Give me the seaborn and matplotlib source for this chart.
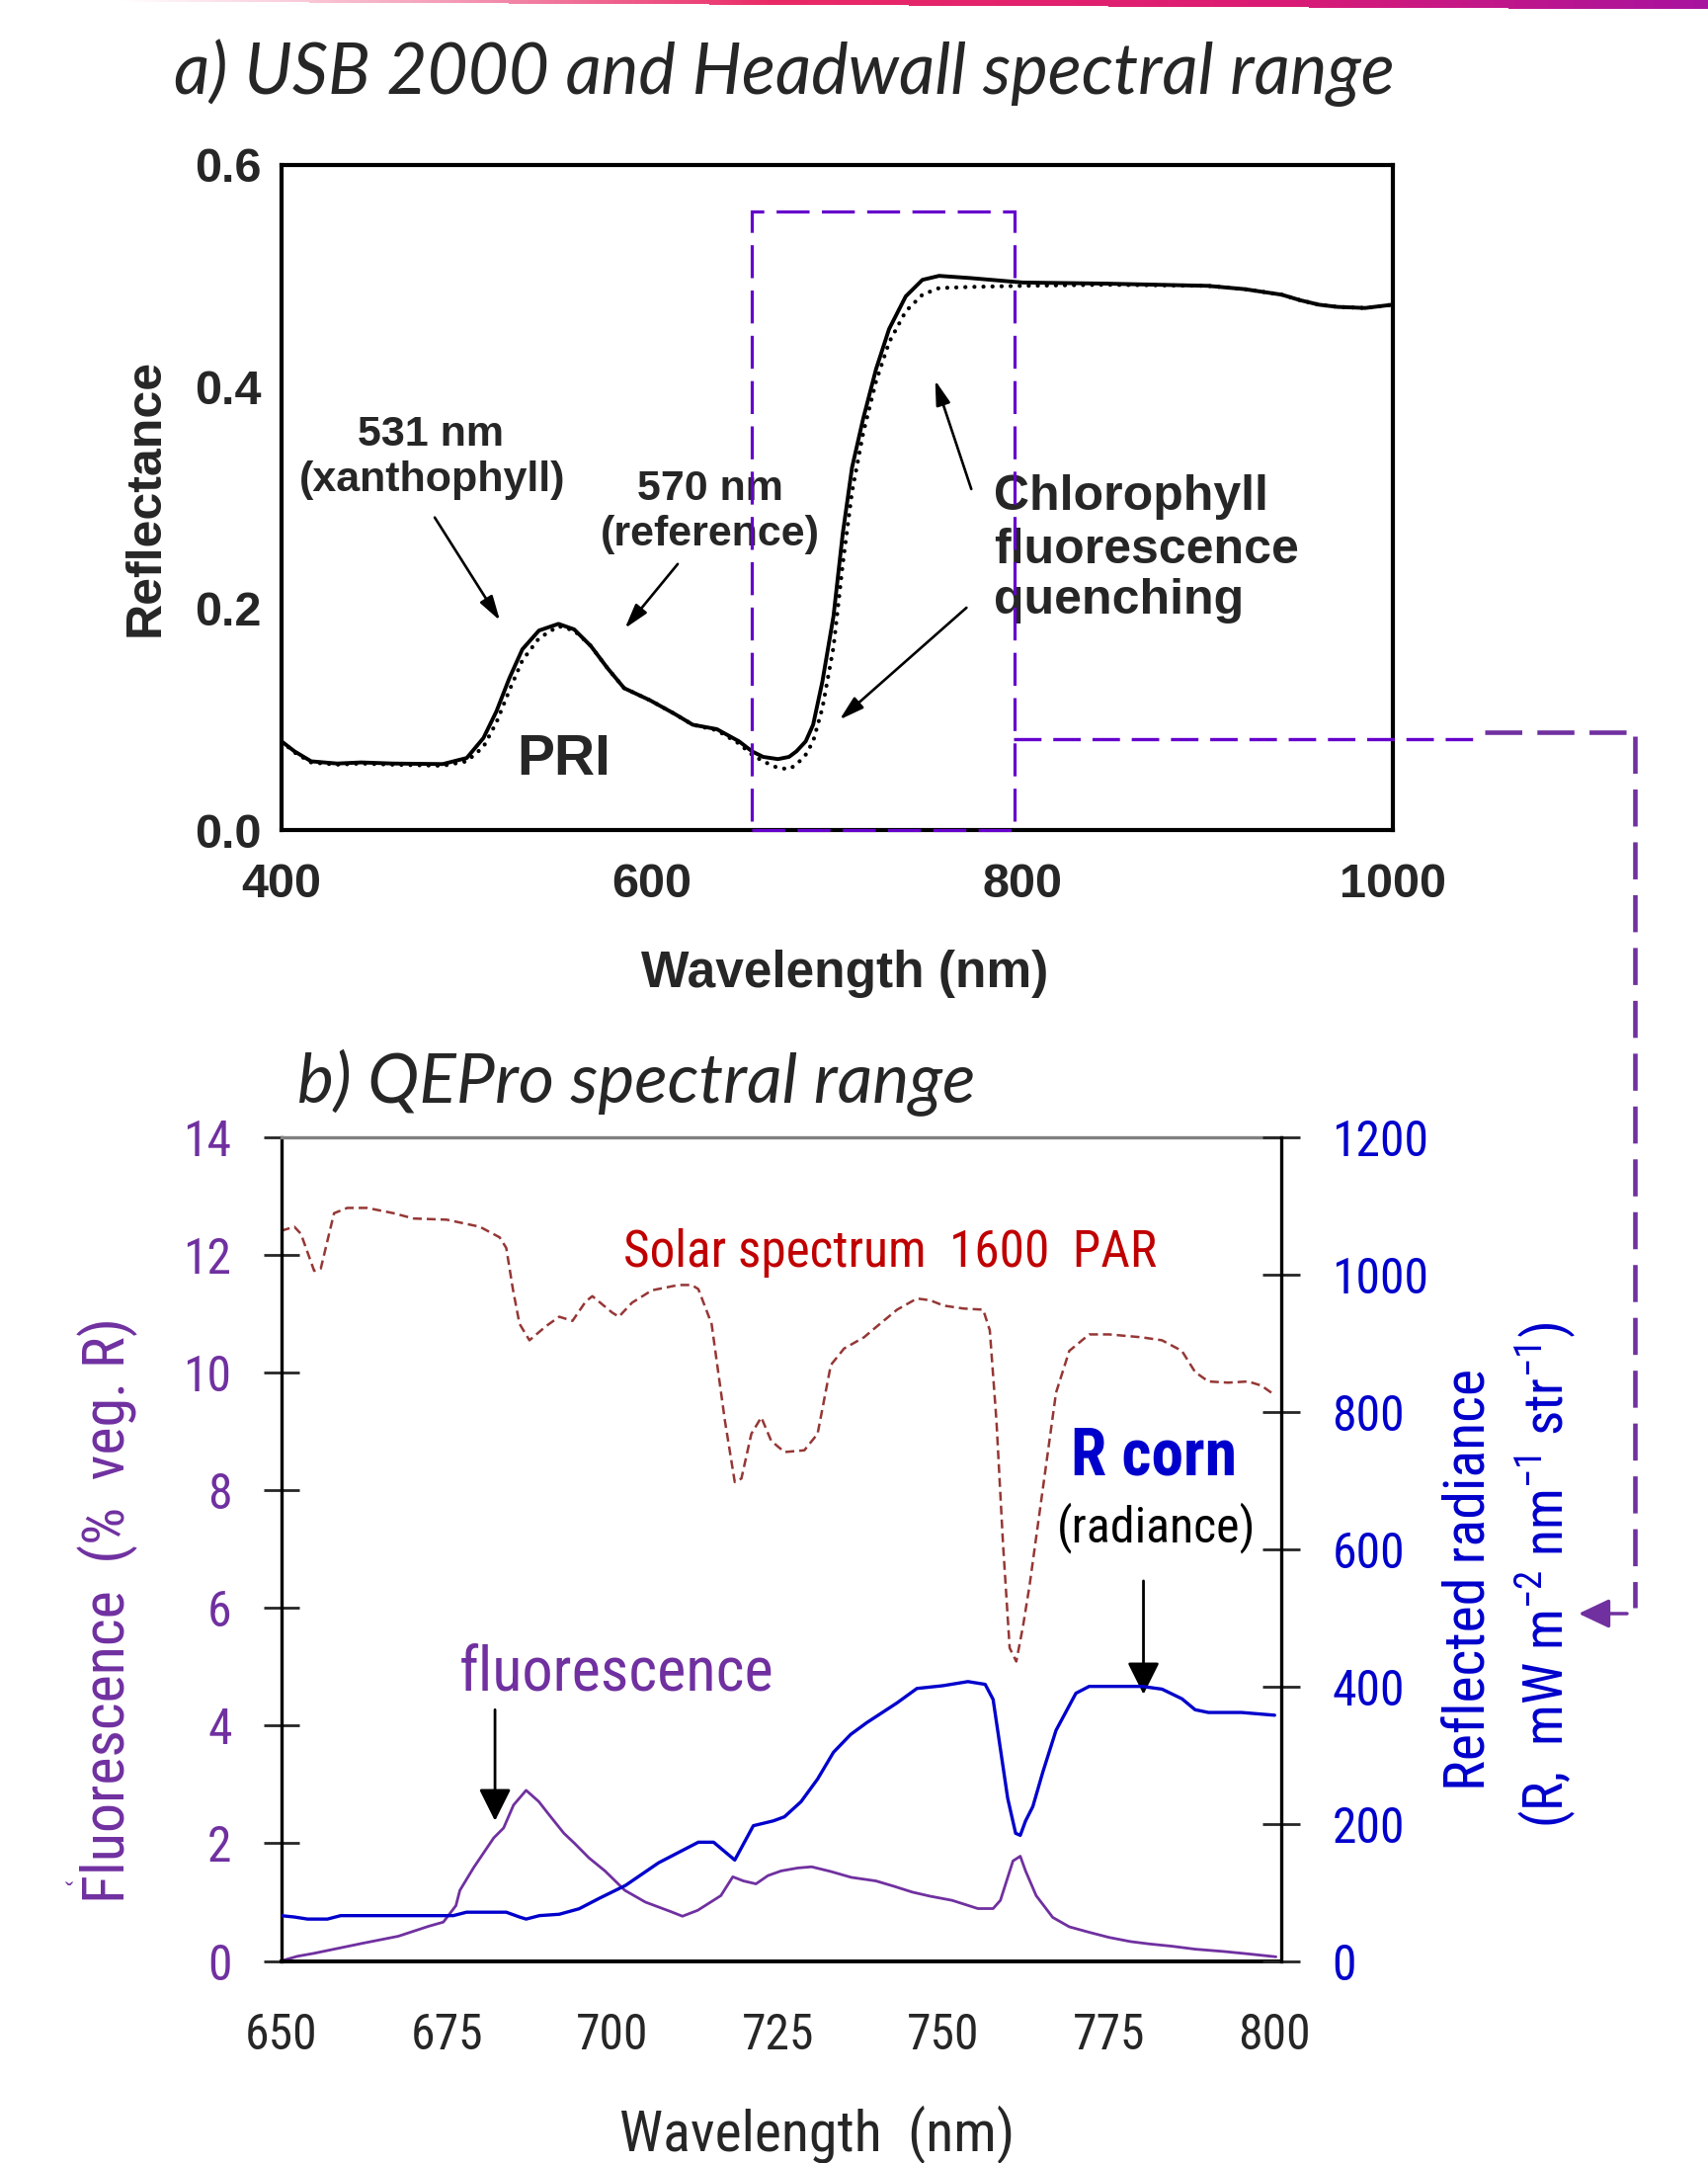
import numpy as np
import pandas as pd
import matplotlib
matplotlib.use("Agg")
import matplotlib.pyplot as plt
import matplotlib.transforms as mtransforms
from matplotlib import font_manager as fm
from matplotlib.colors import LinearSegmentedColormap
from matplotlib.lines import Line2D
from matplotlib.patches import Rectangle, FancyArrowPatch
import seaborn as sns

# ---------------- panel a: leaf reflectance ----------------
wl_a = [400, 407, 416, 430, 443, 460, 487, 500, 509, 516,
        523, 530, 539, 549.5, 558, 567, 576, 585, 599, 612,
        622, 635, 647, 654, 660, 668, 674, 678, 683, 687,
        692, 698, 703, 708, 714, 721, 728, 737, 746, 755,
        772, 800, 845, 900, 920, 940, 950, 960, 970, 985, 1000]
refl_solid = [0.080, 0.071, 0.062, 0.060, 0.061, 0.060, 0.0595, 0.065, 0.083, 0.107,
              0.137, 0.163, 0.180, 0.186, 0.181, 0.166, 0.146, 0.128, 0.117, 0.105,
              0.095, 0.091, 0.080, 0.071, 0.066, 0.064, 0.066, 0.071, 0.080, 0.095,
              0.134, 0.193, 0.2675, 0.327, 0.371, 0.416, 0.452, 0.4815, 0.4964, 0.500,
              0.498, 0.494, 0.493, 0.491, 0.488, 0.483, 0.478, 0.474, 0.472, 0.471, 0.474]
refl_dotted = [0.080, 0.070, 0.061, 0.059, 0.060, 0.059, 0.058, 0.062, 0.075, 0.097,
               0.126, 0.153, 0.173, 0.184, 0.180, 0.166, 0.146, 0.128, 0.117, 0.105,
               0.095, 0.090, 0.078, 0.068, 0.062, 0.056, 0.055, 0.059, 0.068, 0.080,
               0.110, 0.165, 0.240, 0.305, 0.358, 0.405, 0.440, 0.468, 0.483, 0.489,
               0.490, 0.491, 0.492, 0.491, 0.488, 0.483, 0.478, 0.474, 0.472, 0.471, 0.474]

a_xticks = [400, 600, 800, 1000]
a_yticks = [0.0, 0.2, 0.4, 0.6]
box_nm = (654, 795.5)      # dashed window = QEPro range
box_top = 0.558

# ---------------- panel b: QEPro spectra ----------------
wl_solar = [650, 652, 653, 655, 656, 658, 660, 663, 667, 670, 675, 680, 683, 684, 685,
            686, 687.5, 690, 692, 694, 696, 697, 700, 701, 703, 706, 710, 712, 713, 715,
            717, 718.5, 719.5, 721, 722.5, 724, 726, 729, 731, 733, 735, 738, 740, 743, 746,
            748, 750, 753, 756, 757, 758, 759, 760, 761, 762, 763, 765, 767, 769, 772,
            775, 780, 783, 786, 788, 790, 793, 796, 798, 800]
solar = [12.41, 12.48, 12.36, 11.73, 11.77, 12.71, 12.80, 12.80, 12.71, 12.62, 12.60, 12.48, 12.30, 12.12, 11.42,
         10.83, 10.55, 10.79, 10.95, 10.88, 11.21, 11.30, 11.02, 10.95, 11.19, 11.40, 11.49, 11.49, 11.42, 10.83,
         9.19, 8.14, 8.20, 8.96, 9.24, 8.84, 8.65, 8.68, 8.96, 10.13, 10.41, 10.60, 10.79, 11.07, 11.26,
         11.23, 11.14, 11.09, 11.07, 10.72, 9.19, 7.08, 5.32, 5.09, 5.68, 6.38, 8.02, 9.66, 10.37, 10.65,
         10.65, 10.60, 10.55, 10.37, 10.01, 9.85, 9.83, 9.85, 9.78, 9.62]   # drawn on the left scale

wl_rad = [650, 652, 654, 657, 659, 676, 678, 684, 686, 687, 689, 692, 695, 698, 702,
          707, 710, 713, 715.3, 718.5, 721.3, 724.3, 726, 728.5, 731, 733.4, 736, 738.4, 743, 746,
          749.9, 753.7, 756.3, 757.5, 759.7, 760.9, 761.6, 762.4, 763.5, 765, 767, 770, 772, 775, 780,
          783, 786, 788, 790, 795, 800]
radiance = [66, 64, 61, 61, 66, 66, 71, 71, 64, 61, 66, 68, 76, 91, 110,
            143, 158, 173, 173, 147, 197, 204, 210, 232, 265, 304, 330, 347, 376, 397,
            401, 407, 403, 381, 237, 186, 183, 204, 225, 275, 336, 390, 400, 400, 400,
            396, 382, 366, 362, 362, 358]

wl_fluo = [650, 652.5, 655, 658, 662.3, 667.7, 672.3, 674.5, 676.4, 677, 679.1, 682.1, 683.6, 685.1, 687,
           688.9, 690.5, 692.7, 694.3, 696.5, 698.9, 701.9, 705, 708.8, 710.6, 712.9, 716.4, 718.2, 719.8, 721.7,
           723.5, 725.5, 728, 730.1, 733, 736.1, 739.8, 742.5, 745.3, 748, 751.3, 755.2, 757.5, 758.6, 760.5,
           761.6, 762.4, 764, 766.5, 769, 771.9, 775, 778.2, 781, 784.5, 788, 792.4, 796, 800.2]
fluo = [0.0, 0.08, 0.13, 0.20, 0.30, 0.42, 0.59, 0.66, 0.94, 1.20, 1.59, 2.09, 2.26, 2.65, 2.90,
        2.71, 2.48, 2.17, 2.00, 1.75, 1.53, 1.20, 1.00, 0.84, 0.76, 0.86, 1.11, 1.43, 1.36, 1.31,
        1.45, 1.53, 1.58, 1.60, 1.52, 1.42, 1.36, 1.27, 1.17, 1.10, 1.03, 0.89, 0.89, 1.03, 1.70,
        1.78, 1.53, 1.11, 0.74, 0.58, 0.49, 0.40, 0.33, 0.29, 0.25, 0.20, 0.16, 0.12, 0.07]

b_xticks = [650, 675, 700, 725, 750, 775, 800]
b_yticks_left = [0, 2, 4, 6, 8, 10, 12, 14]
b_yticks_right = [0, 200, 400, 600, 800, 1000, 1200]

PURPLE = "#7030A0"
VIOLET = "#6600CC"
BLUE = "#0000CC"
RED = "#C00000"
BROWN = "#953735"

# ---------------- style ----------------
sns.set_theme(style="white")
plt.rcParams["font.family"] = ["Liberation Sans", "DejaVu Sans"]
plt.rcParams["lines.scale_dashes"] = False


def pick_narrow():
    """Best condensed sans on this machine (the b) panel uses a narrow face)."""
    names = {f.name for f in fm.fontManager.ttflist}
    for name in ["Liberation Sans Narrow", "Arial Narrow", "Roboto Condensed",
                 "Noto Sans Condensed", "Open Sans Condensed", "DejaVu Sans Condensed"]:
        if name in names:
            return name, "normal"
    for f in fm.fontManager.ttflist:
        if f.name in ("DejaVu Sans", "Noto Sans", "Open Sans", "Roboto") and \
                f.stretch in ("condensed", "semi-condensed", "extra-condensed") and f.style == "normal":
            return f.name, f.stretch
    return "Liberation Sans", "normal"


NARROW, NSTRETCH = pick_narrow()
plt.rcParams["mathtext.fontset"] = "custom"
plt.rcParams["mathtext.rm"] = NARROW
plt.rcParams["mathtext.it"] = NARROW + ":italic"
plt.rcParams["mathtext.bf"] = NARROW + ":bold"

W, H = 1729, 2189
fig = plt.figure(figsize=(W / 100, H / 100), dpi=100)
renderer = fig.canvas.get_renderer()
px = mtransforms.Affine2D().scale(1 / W, -1 / H).translate(0, 1) + fig.transFigure


def fit(txt, target, along="w"):
    # scale the font so the text spans the same number of pixels as in the original
    bb = txt.get_window_extent(renderer)
    size = bb.width if along == "w" else bb.height
    txt.set_fontsize(txt.get_fontsize() * target / size)


# thin gradient rule along the top edge
cmap = LinearSegmentedColormap.from_list(
    "rule", [(0, "#FFFFFF"), (0.07, "#FFFFFF"), (0.25, "#F5A3BC"), (0.45, "#EA2A66"),
             (0.75, "#DA1B74"), (1, "#A8139F")])
rgba = cmap(np.linspace(0, 1, W))
img = np.repeat(rgba[None, :, :], 10, axis=0)
thick = np.clip((np.arange(W) - 110) / (W - 110) * 8 + 1, 0, None)
img[..., 3] = (np.arange(10)[:, None] < thick[None, :]).astype(float)
rule_ax = fig.add_axes([0, 1 - 10 / H, 1, 10 / H])
rule_ax.imshow(img, aspect="auto", interpolation="nearest")
rule_ax.axis("off")

# ================= panel a =================
ax_a = fig.add_axes([285 / W, 1 - 840 / H, 1125 / W, 673 / H])
df_a = pd.DataFrame({"wl": wl_a, "solid": refl_solid, "dotted": refl_dotted})
sns.lineplot(data=df_a, x="wl", y="dotted", ax=ax_a, color="black", lw=3.0,
             linestyle=(0, (0.1, 6.5)), dash_capstyle="round")
sns.lineplot(data=df_a, x="wl", y="solid", ax=ax_a, color="black", lw=2.8)

ax_a.set_xlim(400, 1000)
ax_a.set_ylim(0, 0.6)
ax_a.set_xlabel("")
ax_a.set_ylabel("")
ax_a.set_xticks(a_xticks)
ax_a.set_xticklabels([str(v) for v in a_xticks], fontsize=35, fontweight="bold")
ax_a.set_yticks(a_yticks)
ax_a.set_yticklabels([f"{v:.1f}" for v in a_yticks], fontsize=35, fontweight="bold")
ax_a.tick_params(axis="both", direction="in", length=22, width=2.4, top=False, right=False)
ax_a.tick_params(axis="y", pad=15)
ax_a.tick_params(axis="x", pad=24)
for t in [ax_a.xaxis.get_major_ticks()[0], ax_a.xaxis.get_major_ticks()[-1],
          ax_a.yaxis.get_major_ticks()[0], ax_a.yaxis.get_major_ticks()[-1]]:
    t.tick1line.set_visible(False)
for s in ax_a.spines.values():
    s.set_color("black")
    s.set_linewidth(3)

ax_a.add_patch(Rectangle((box_nm[0], 0), box_nm[1] - box_nm[0], box_top, fill=False,
                         ec=VIOLET, lw=2.3, linestyle=(0, (24, 9)), clip_on=False, zorder=6))

for x, y, s in [(480.5, 0.3468, "531 nm"), (481.3, 0.3058, "(xanthophyll)"),
                (631.2, 0.2978, "570 nm"), (631.2, 0.2568, "(reference)")]:
    ax_a.text(x, y, s, ha="center", va="baseline", fontsize=31, fontweight="bold")
for y, s in [(0.2889, "Chlorophyll"), (0.2407, "fluorescence"), (0.1953, "quenching")]:
    ax_a.text(784.5, y, s, ha="left", va="baseline", fontsize=36, fontweight="bold")
ax_a.text(552.5, 0.0499, "PRI", ha="center", va="baseline", fontsize=41, fontweight="bold")

for (x0, y0), (x1, y1) in [((482.7, 0.282), (517.9, 0.189)), ((613.9, 0.240), (585.4, 0.182)),
                           ((772.4, 0.3076), (752.9, 0.4057)), ((769.8, 0.2006), (701.3, 0.0996))]:
    ax_a.annotate("", xy=(x1, y1), xytext=(x0, y0),
                  arrowprops=dict(arrowstyle="-|>,head_length=0.75,head_width=0.22",
                                  mutation_scale=20, lw=1.9, color="black",
                                  shrinkA=0, shrinkB=0))

fig.text(855 / W, 1 - 961 / H, "Wavelength (nm)", ha="center", va="top",
         fontsize=37, fontweight="bold")
fig.text(148 / W, 1 - 503 / H, "Reflectance", rotation=90, ha="center", va="center",
         fontsize=36, fontweight="bold")

# ================= panel b =================
ax_b = fig.add_axes([284.5 / W, 1 - 1984.5 / H, 1012.5 / W, 833.5 / H])
ax_r = ax_b.twinx()
sns.lineplot(x=wl_solar, y=solar, ax=ax_b, color=BROWN, lw=1.8, linestyle=(0, (6.5, 3.6)))
sns.lineplot(x=wl_fluo, y=fluo, ax=ax_b, color=PURPLE, lw=2.0)
sns.lineplot(x=wl_rad, y=radiance, ax=ax_r, color=BLUE, lw=2.4)

ax_b.set_xlim(650, 801)
ax_b.set_ylim(0, 14)
ax_r.set_ylim(0, 1200)
for a in (ax_b, ax_r):
    a.set_xlabel("")
    a.set_ylabel("")

# tick-label size: "1200" is 98 px wide in the original
probe = fig.text(0, 0, "1200", family=NARROW, fontstretch=NSTRETCH, fontsize=40)
tick_size = 40 * 98 / probe.get_window_extent(renderer).width
probe.remove()
nfp = fm.FontProperties(family=NARROW, stretch=NSTRETCH, size=tick_size)

ax_b.set_xticks(b_xticks)
ax_b.set_xticklabels([str(v) for v in b_xticks], fontproperties=nfp)
ax_b.set_yticks(b_yticks_left)
ax_b.set_yticklabels([str(v) for v in b_yticks_left], fontproperties=nfp, color=PURPLE)
ax_r.set_yticks(b_yticks_right)
ax_r.set_yticklabels([str(v) for v in b_yticks_right], fontproperties=nfp, color=BLUE)
ax_b.tick_params(axis="x", direction="inout", length=28, width=2, pad=23, top=False)
ax_b.tick_params(axis="y", direction="inout", length=26, width=2, pad=23, right=False)
ax_r.tick_params(axis="y", direction="inout", length=28, width=2, pad=23)

ax_b.spines["right"].set_visible(False)
ax_b.spines["top"].set_color("#808080")
ax_b.spines["top"].set_linewidth(2.4)
ax_b.spines["left"].set_color("black")
ax_b.spines["left"].set_linewidth(2.4)
ax_b.spines["bottom"].set_color("black")
ax_b.spines["bottom"].set_linewidth(2.8)
for side in ("left", "top", "bottom"):
    ax_r.spines[side].set_visible(False)
ax_r.spines["right"].set_color("black")
ax_r.spines["right"].set_linewidth(2.4)

nkw = dict(family=NARROW, fontstretch=NSTRETCH)
t_solar = ax_b.text(741.9, 11.80, "Solar spectrum  1600  PAR", color=RED, ha="center",
                    va="baseline", fontsize=39, **nkw)
t_corn = ax_b.text(781.8, 8.27, "R corn", color=BLUE, ha="center", va="baseline",
                   fontsize=47, fontweight="bold", **nkw)
t_rad = ax_b.text(782.1, 7.36, "(radiance)", color="black", ha="center", va="center",
                  fontsize=39, **nkw)
t_fluo = ax_b.text(700.6, 4.61, "fluorescence", color=PURPLE, ha="center", va="baseline",
                   fontsize=49, **nkw)
for x, y0, y1 in [(682.3, 4.27, 2.38), (780.2, 6.46, 4.53)]:
    ax_b.annotate("", xy=(x, y1), xytext=(x, y0),
                  arrowprops=dict(arrowstyle="-|>,head_length=0.8,head_width=0.4",
                                  mutation_scale=25, lw=2.0, color="black",
                                  shrinkA=0, shrinkB=0))

t_xlab = fig.text(827 / W, 1 - 2177 / H, "Wavelength  (nm)", ha="center", va="baseline",
                  fontsize=45, **nkw)
t_ylab = fig.text(109 / W, 1 - 1630 / H, "Fluorescence  (%  veg. R)", rotation=90,
                  ha="center", va="center", fontsize=45, color=PURPLE, **nkw)
fig.text(70 / W, 1 - 1916 / H, "ˇ", ha="center", va="center", fontsize=18, color=PURPLE)
t_r1 = fig.text(1487 / W, 1 - 1599 / H, "Reflected radiance", rotation=90, ha="center",
                va="center", fontsize=45, color=BLUE, **nkw)
t_r2 = fig.text(1564 / W, 1 - 1594 / H, r"(R,  mW m$^{-2}$ nm$^{-1}$ str$^{-1}$)",
                rotation=90, ha="center", va="center", fontsize=45, color=BLUE, **nkw)

# ---------------- connector from window a) to the radiance axis of b) ----------------
fig.add_artist(Line2D([1026, 1495], [748, 748], transform=px, color=VIOLET, lw=2.4,
                      linestyle=(0, (20, 8.6))))
fig.add_artist(Line2D([1503, 1655], [741, 741], transform=px, color=PURPLE, lw=3.3,
                      linestyle=(0, (27, 11))))
fig.add_artist(Line2D([1655, 1655], [745, 1627], transform=px, color=PURPLE, lw=3.3,
                      linestyle=(0, (27, 11.5))))
fig.add_artist(FancyArrowPatch((1647, 1633), (1598, 1633), transform=px,
                               arrowstyle="-|>,head_length=19,head_width=9",
                               mutation_scale=1, lw=2.5, color=PURPLE,
                               shrinkA=0, shrinkB=0))

# ---------------- titles ----------------
title_a = fig.text(176 / W, 1 - 95 / H, "a) USB 2000 and Headwall spectral range",
                   ha="left", va="baseline", fontsize=48, style="italic",
                   family=["Lato", "DejaVu Sans"])
title_b = fig.text(301 / W, 1 - 1116 / H, "b) QEPro spectral range",
                   ha="left", va="baseline", fontsize=48, style="italic",
                   family=["Lato", "DejaVu Sans"])

# widths / lengths measured on the original, in pixels
for txt, target, along in [(title_a, 1235, "w"), (title_b, 686, "w"),
                           (t_solar, 540, "w"), (t_corn, 168, "w"), (t_rad, 201, "w"),
                           (t_fluo, 319, "w"), (t_xlab, 401, "w"),
                           (t_ylab, 593, "h"), (t_r1, 427, "h"), (t_r2, 512, "h")]:
    fit(txt, target, along)

fig.savefig("out.png", dpi=100)
